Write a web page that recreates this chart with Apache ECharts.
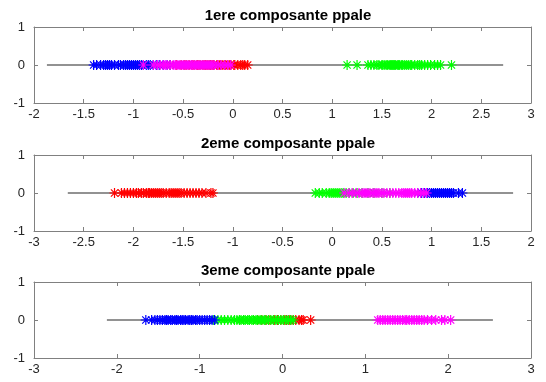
<!DOCTYPE html>
<html><head><meta charset="utf-8">
<script src="https://cdn.jsdelivr.net/npm/echarts@6/dist/echarts.min.js"></script>
<style>html,body{margin:0;padding:0;background:#fff}#c{width:546px;height:382px}</style>
</head><body><div id="c"></div>
<script>
// Panel titles
const titles = ['1ere composante ppale', '2eme composante ppale', '3eme composante ppale'];
// x axis ranges / tick steps
const xMins = [-2, -3, -3];
const xMaxs = [3, 2, 3];
const xSteps = [0.5, 0.5, 1];
const yTicks = [-1, 0, 1];
// gray reference line extents
const lineStart = [-1.87, -2.66, -2.12];
const lineEnd = [2.72, 1.82, 2.54];

// Panel 1 values (projection on 1st component)
const red1 = [-0.63,-0.57,-0.52,-0.49,-0.47,-0.44,-0.41,-0.39,-0.36,-0.35,-0.33,-0.3,-0.28,-0.27,-0.25,-0.23,-0.22,-0.2,-0.19,-0.16,-0.15,-0.13,-0.12,-0.1,-0.08,-0.07,-0.05,-0.03,-0.02,0.01,0.02,0.05,0.08,0.1,0.12,0.15];
const green1 = [1.15,1.25,1.36,1.39,1.42,1.45,1.47,1.5,1.51,1.53,1.55,1.56,1.58,1.59,1.6,1.61,1.62,1.63,1.64,1.66,1.67,1.68,1.7,1.71,1.73,1.75,1.77,1.79,1.8,1.83,1.86,1.88,1.9,1.93,1.96,1.99,2.03,2.06,2.09,2.2];
const blue1 = [-1.4,-1.37,-1.33,-1.3,-1.28,-1.26,-1.24,-1.22,-1.19,-1.15,-1.13,-1.1,-1.08,-1.06,-1.04,-1.02,-1.0,-0.98,-0.96,-0.94,-0.92,-0.9,-0.87,-0.85,-0.83,-0.8,-0.77,-0.74,-0.7,-0.66,-0.63];
const magenta1 = [-0.9,-0.8,-0.76,-0.73,-0.7,-0.68,-0.66,-0.63,-0.6,-0.58,-0.56,-0.54,-0.52,-0.5,-0.48,-0.46,-0.44,-0.42,-0.41,-0.39,-0.37,-0.35,-0.33,-0.31,-0.29,-0.27,-0.25,-0.23,-0.21,-0.19,-0.15,-0.12,-0.08,-0.05,-0.02];

// Panel 2 values
const red2 = [-2.19,-2.12,-2.09,-2.06,-2.03,-2.0,-1.97,-1.95,-1.92,-1.9,-1.87,-1.85,-1.84,-1.82,-1.8,-1.78,-1.76,-1.74,-1.72,-1.7,-1.67,-1.64,-1.62,-1.6,-1.58,-1.56,-1.54,-1.52,-1.49,-1.46,-1.43,-1.4,-1.37,-1.34,-1.31,-1.27,-1.22,-1.2];
const green2 = [-0.17,-0.13,-0.1,-0.06,-0.03,-0.01,0.01,0.03,0.05,0.07,0.09,0.11,0.14,0.17,0.21,0.25,0.3,0.36,0.42,0.5,0.58];
const blue2 = [0.86,0.9,0.93,0.96,0.98,1.0,1.02,1.04,1.06,1.08,1.1,1.12,1.14,1.16,1.18,1.2,1.22,1.27,1.31];
const magenta2 = [0.12,0.17,0.2,0.24,0.27,0.3,0.32,0.34,0.36,0.38,0.41,0.43,0.45,0.47,0.5,0.52,0.55,0.58,0.61,0.64,0.67,0.7,0.72,0.74,0.76,0.78,0.8,0.83,0.86,0.89,0.92,0.95];

// Panel 3 values
const red3 = [-0.3,-0.25,-0.2,-0.15,-0.1,-0.06,-0.02,0.02,0.05,0.08,0.1,0.13,0.16,0.2,0.23,0.25,0.34];
const green3 = [-0.83,-0.78,-0.74,-0.7,-0.66,-0.62,-0.58,-0.55,-0.52,-0.5,-0.47,-0.45,-0.42,-0.4,-0.37,-0.35,-0.32,-0.3,-0.27,-0.25,-0.22,-0.2,-0.17,-0.14,-0.11,-0.08,-0.05,-0.02,0.01,0.04,0.07,0.1,0.13];
const blue3 = [-1.65,-1.58,-1.54,-1.51,-1.48,-1.45,-1.42,-1.4,-1.38,-1.35,-1.33,-1.3,-1.28,-1.26,-1.23,-1.21,-1.19,-1.17,-1.14,-1.12,-1.1,-1.08,-1.05,-1.03,-1.0,-0.97,-0.94,-0.91,-0.88,-0.85,-0.82];
const magenta3 = [1.15,1.18,1.21,1.24,1.27,1.3,1.33,1.36,1.39,1.42,1.45,1.48,1.5,1.53,1.56,1.59,1.62,1.65,1.68,1.71,1.75,1.8,1.85,1.92,1.96,2.03];

const panels = [
  {red: red1, green: green1, blue: blue1, magenta: magenta1},
  {red: red2, green: green2, blue: blue2, magenta: magenta2},
  {red: red3, green: green3, blue: blue3, magenta: magenta3}
];
const classColors = {red: '#ff0000', green: '#00ff00', blue: '#0000ff', magenta: '#ff00ff'};
const drawOrder = ['red', 'green', 'blue', 'magenta'];

const gridTops = [27, 155, 282];
const gridH = 76;
const gridLeft = 34, gridRight = 15;
const labelCol = '#262626';
const boxCol = '#808080';
const lineCol = '#6e6e6e';
const star = 'path://M0,-5L0,5M-5,0L5,0M-3.6,-3.6L3.6,3.6M-3.6,3.6L3.6,-3.6';
const font = 'Liberation Sans';

const grid = [], xAxis = [], yAxis = [], series = [], title = [];
panels.forEach((p, i) => {
  grid.push({left: gridLeft, right: gridRight, top: gridTops[i], height: gridH, show: false});
  title.push({text: titles[i], left: 283, top: gridTops[i] - 24, textAlign: 'center',
    textStyle: {fontFamily: font, fontSize: 15, fontWeight: 'bold', color: '#000'}});
  const xBase = {gridIndex: i, type: 'value', min: xMins[i], max: xMaxs[i], interval: xSteps[i],
    splitLine: {show: false},
    axisLine: {show: true, onZero: false, lineStyle: {color: boxCol, width: 1}},
    axisTick: {show: true, inside: true, length: 4, lineStyle: {color: boxCol}}};
  xAxis.push(Object.assign({}, xBase, {position: 'bottom',
    axisLabel: {color: labelCol, fontFamily: font, fontSize: 13, margin: 5}}));
  xAxis.push(Object.assign({}, xBase, {position: 'top', axisLabel: {show: false}}));
  const yBase = {gridIndex: i, type: 'value', min: yTicks[0], max: yTicks[yTicks.length - 1], interval: 1,
    splitLine: {show: false},
    axisLine: {show: true, onZero: false, lineStyle: {color: boxCol, width: 1}},
    axisTick: {show: true, inside: true, length: 4, lineStyle: {color: boxCol}}};
  yAxis.push(Object.assign({}, yBase, {position: 'left',
    axisLabel: {color: labelCol, fontFamily: font, fontSize: 13, margin: 9}}));
  yAxis.push(Object.assign({}, yBase, {position: 'right', axisLabel: {show: false}}));

  series.push({type: 'line', xAxisIndex: 2 * i, yAxisIndex: 2 * i, symbol: 'none', silent: true, z: 1,
    lineStyle: {color: lineCol, width: 1.5},
    data: [[lineStart[i], 0], [lineEnd[i], 0]]});
  drawOrder.forEach((k, j) => {
    series.push({type: 'scatter', xAxisIndex: 2 * i, yAxisIndex: 2 * i, z: 2 + j,
      symbol: star, symbolSize: 10,
      itemStyle: {color: 'rgba(0,0,0,0)', borderColor: classColors[k], borderWidth: 1.2, opacity: 1},
      data: p[k].map(v => [v, 0])});
  });
});

const chart = echarts.init(document.getElementById('c'), null, {renderer: 'canvas'});
chart.setOption({animation: false, backgroundColor: '#fff', title, grid, xAxis, yAxis, series});
</script></body></html>
